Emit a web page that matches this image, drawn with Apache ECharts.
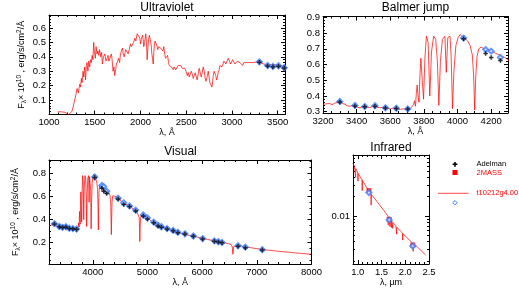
<!DOCTYPE html>
<html><head><meta charset="utf-8">
<script src="https://cdn.jsdelivr.net/npm/echarts@6/dist/echarts.min.js"></script>
<style>html,body{margin:0;padding:0;background:#fff}#c{width:519px;height:296px}</style>
</head><body><div id="c"></div>
<script>
// ---------------- DATA ----------------
const uvWave = [1100,1120,1140,1160,1175,1195,1215,1235,1250,1263,1280,1295,1307,1320,1336,1345,1354,1362,1372,1380,1390,1400,1408,1416,1425,1435,1445,1453,1462,1472,1480,1489,1495,1507,1515,1525,1535,1544,1553,1565,1575,1584,1595,1610,1622,1635,1645,1655,1668,1682,1690,1700,1710,1719,1728,1737,1750,1760,1772,1781,1792,1803,1812,1822,1832,1839,1850,1865,1877,1890,1900,1912,1925,1938,1950,1964,1975,1985,1993,2000,2010,2022,2030,2036,2045,2058,2066,2073,2080,2088,2098,2110,2118,2124,2132,2139,2146,2153,2160,2168,2178,2190,2200,2212,2222,2234,2245,2255,2265,2274,2285,2296,2305,2314,2325,2339,2348,2358,2367,2376,2385,2394,2403,2412,2422,2431,2440,2449,2458,2467,2476,2485,2498,2511,2522,2533,2544,2555,2566,2577,2588,2599,2610,2620,2631,2642,2653,2664,2675,2686,2697,2708,2716,2723,2732,2741,2750,2759,2770,2781,2789,2796,2805,2814,2823,2832,2841,2850,2860,2869,2880,2891,2902,2912,2922,2934,2946,2960,2972,2985,2995,3007,3020,3033,3045,3058,3072,3088,3100,3117,3130,3142,3155,3168,3182,3197,3210,3226,3240,3252,3270,3288,3300,3320,3350,3380,3400,3430,3450,3480,3500,3520,3550,3570,3580];
const uvFlux = [0.02,0.022,0.018,0.02,0.015,0.008,0.0,0.002,0.02,0.05,0.1,0.14,0.18,0.15,0.21,0.19,0.25,0.22,0.3,0.26,0.33,0.24,0.34,0.36,0.3,0.37,0.33,0.38,0.36,0.41,0.38,0.5,0.44,0.39,0.47,0.42,0.44,0.41,0.45,0.4,0.43,0.35,0.4,0.42,0.37,0.39,0.41,0.37,0.36,0.42,0.38,0.3,0.33,0.27,0.31,0.35,0.37,0.39,0.36,0.42,0.44,0.46,0.42,0.4,0.43,0.45,0.44,0.42,0.45,0.49,0.47,0.46,0.5,0.53,0.51,0.56,0.55,0.57,0.53,0.49,0.52,0.55,0.52,0.47,0.5,0.56,0.5,0.38,0.45,0.52,0.55,0.54,0.48,0.42,0.39,0.35,0.43,0.49,0.51,0.52,0.48,0.45,0.47,0.48,0.46,0.45,0.44,0.47,0.42,0.39,0.4,0.41,0.37,0.34,0.35,0.33,0.32,0.31,0.33,0.33,0.31,0.3,0.32,0.34,0.33,0.35,0.34,0.33,0.32,0.31,0.33,0.32,0.3,0.27,0.29,0.26,0.28,0.3,0.28,0.25,0.27,0.29,0.26,0.24,0.28,0.32,0.29,0.26,0.29,0.33,0.3,0.25,0.23,0.24,0.27,0.3,0.26,0.22,0.21,0.19,0.23,0.27,0.3,0.31,0.27,0.24,0.26,0.29,0.31,0.34,0.34,0.33,0.35,0.37,0.36,0.35,0.37,0.39,0.38,0.35,0.36,0.38,0.37,0.35,0.36,0.37,0.36,0.36,0.35,0.34,0.36,0.37,0.36,0.35,0.36,0.37,0.36,0.35,0.36,0.36,0.365,0.37,0.36,0.355,0.35,0.345,0.35,0.345,0.34,0.345,0.345,0.34,0.335,0.325,0.33];

const modelWave = [3200,3215,3225,3240,3255,3270,3285,3300,3315,3330,3345,3360,3375,3390,3405,3420,3435,3450,3465,3480,3495,3510,3525,3540,3555,3570,3585,3600,3615,3630,3645,3660,3675,3690,3705,3720,3730,3738,3744,3750,3755,3760,3765,3771,3776,3782,3790,3798,3806,3815,3825,3835,3845,3858,3870,3880,3889,3898,3910,3925,3933,3942,3955,3962,3970,3978,3990,4003,4015,4030,4045,4060,4075,4088,4096,4102,4108,4116,4126,4140,4160,4180,4200,4220,4240,4260,4280,4300,4315,4328,4340,4352,4365,4385,4400,4430,4460,4500,4550,4600,4650,4700,4750,4800,4830,4848,4856,4861,4866,4875,4895,4920,4950,5000,5050,5100,5150,5200,5250,5300,5350,5400,5450,5500,5550,5600,5650,5700,5800,5900,6000,6100,6200,6300,6400,6480,6530,6550,6563,6575,6600,6700,6800,6900,7000,7100,7200,7300,7400,7500,7600,7700,7800,7900,8000];
const modelFlux = [0.345,0.35,0.34,0.352,0.345,0.355,0.358,0.362,0.352,0.348,0.338,0.335,0.34,0.337,0.328,0.325,0.333,0.332,0.328,0.326,0.334,0.335,0.328,0.326,0.327,0.322,0.321,0.318,0.322,0.319,0.317,0.315,0.318,0.316,0.317,0.32,0.33,0.345,0.37,0.335,0.42,0.47,0.4,0.36,0.52,0.64,0.5,0.38,0.64,0.78,0.74,0.4,0.68,0.78,0.76,0.62,0.34,0.62,0.76,0.78,0.55,0.77,0.78,0.65,0.32,0.55,0.72,0.77,0.79,0.775,0.765,0.75,0.72,0.66,0.52,0.31,0.52,0.65,0.7,0.71,0.7,0.695,0.685,0.675,0.665,0.655,0.645,0.63,0.61,0.55,0.27,0.55,0.605,0.612,0.61,0.6,0.585,0.565,0.55,0.535,0.52,0.505,0.49,0.475,0.46,0.42,0.32,0.21,0.32,0.42,0.44,0.44,0.43,0.415,0.395,0.38,0.365,0.352,0.34,0.332,0.322,0.313,0.305,0.297,0.29,0.283,0.277,0.27,0.26,0.25,0.24,0.228,0.218,0.208,0.2,0.192,0.185,0.165,0.1,0.165,0.178,0.172,0.164,0.156,0.149,0.142,0.136,0.131,0.126,0.121,0.117,0.112,0.108,0.104,0.1];

const irWave = [0.90,0.93,0.952,0.955,0.958,0.98,1.002,1.005,1.008,1.05,1.091,1.094,1.097,1.15,1.2,1.25,1.279,1.282,1.285,1.35,1.45,1.55,1.6,1.64,1.642,1.645,1.68,1.681,1.684,1.71,1.712,1.715,1.736,1.738,1.741,1.8,1.818,1.82,1.823,1.9,1.944,1.946,1.95,2.05,2.1,2.164,2.166,2.169,2.25,2.33,2.43];
const irFlux = [0.066,0.06,0.056,0.04,0.055,0.051,0.047,0.035,0.046,0.041,0.037,0.025,0.036,0.031,0.027,0.024,0.022,0.0148,0.0218,0.019,0.0152,0.0122,0.0108,0.0098,0.0072,0.0096,0.009,0.0068,0.0089,0.0085,0.0066,0.0084,0.008,0.0064,0.0079,0.0071,0.0068,0.0052,0.0067,0.0058,0.0054,0.0042,0.0053,0.0045,0.0041,0.0037,0.0028,0.0037,0.0033,0.0029,0.00245];

const adelmanWave = [3300,3390,3448,3509,3571,3636,3704,4036,4167,4200,4255,4464,4566,4673,4785,4924,5000,5115,5194,5256,5360,5470,5556,5685,5840,6009,6224,6297,6364,6657,6790,7100];
const adelmanFlux = [0.362,0.337,0.331,0.335,0.323,0.320,0.317,0.763,0.670,0.645,0.625,0.577,0.530,0.512,0.474,0.430,0.405,0.373,0.344,0.333,0.318,0.304,0.287,0.275,0.255,0.232,0.212,0.206,0.200,0.170,0.157,0.137];
const synthFlux = [0.365,0.340,0.333,0.338,0.325,0.322,0.318,0.768,0.695,0.685,0.645,0.585,0.545,0.518,0.482,0.440,0.415,0.378,0.352,0.338,0.322,0.306,0.290,0.277,0.258,0.236,0.216,0.208,0.202,0.174,0.162,0.140];

const tmassWave = [1.235,1.662,2.159];
const tmassFlux = [0.0249,0.00887,0.00352];
const tmassSynth = [0.0232,0.0087,0.0034];

const uvXTicks = [1000,1500,2000,2500,3000,3500];
const uvYTicks = [0.1,0.2,0.3,0.4,0.5,0.6];
const bjXTicks = [3200,3400,3600,3800,4000,4200];
const bjYTicks = [0.3,0.4,0.5,0.6,0.7,0.8,0.9];
const viXTicks = [4000,5000,6000,7000,8000];
const viYTicks = [0.2,0.4,0.6,0.8];
const irXTicks = [1.0,1.5,2.0,2.5];
const irYMinor = [0.002,0.003,0.004,0.005,0.006,0.007,0.008,0.009,0.02,0.03,0.04,0.05,0.06,0.07,0.08];

const titles = ['Ultraviolet','Balmer jump','Visual','Infrared'];
const legendNames = ['Adelman','2MASS','t10212g4.00'];

// ---------------- LAYOUT ----------------
const FF = '"Liberation Sans", Arial, Helvetica, sans-serif';
const LBL = 9.5;
const G = [
  {left:49, top:15, width:236, height:99.5},
  {left:323, top:16.5, width:185, height:96.5},
  {left:49, top:160, width:262.5, height:104},
  {left:353, top:155, width:76, height:109}
];
function steps(a, b, s){ const r=[]; for(let v=a; v<=b+1e-9; v+=s) r.push(+v.toFixed(6)); return r; }
const pair = (xs, ys) => xs.map((x,i)=>[x, ys[i]]);
const fmtX = d => (v => v.toFixed(d));

const xAxes=[], yAxes=[], series=[];
const black = {color:'#000', width:1};
const yName = '{a|F}{b|λ}{a|× 10}{c|10}{a| , erg/s/cm}{c|2}{a|/Å}';
const nameRich = {
  a:{fontSize:9, fontFamily:FF, color:'#000', verticalAlign:'middle', lineHeight:12},
  b:{fontSize:6.5, fontFamily:FF, color:'#000', verticalAlign:'bottom', lineHeight:12},
  c:{fontSize:6.5, fontFamily:FF, color:'#000', verticalAlign:'top', lineHeight:12}
};

function addPanel(gi, p){
  const bx = xAxes.length, by = yAxes.length;
  const common = {gridIndex:gi, splitLine:{show:false}};
  xAxes.push(Object.assign({}, common, {type:'value', position:'bottom', min:p.xr[0], max:p.xr[1],
    axisLine:{show:true, onZero:false, lineStyle:black},
    axisTick:{show:true, inside:true, length:4, customValues:p.xt, lineStyle:black},
    axisLabel:{show:true, customValues:p.xt, formatter:fmtX(p.xd), fontSize:LBL, color:'#000', fontFamily:FF, margin:3},
    name:p.xName, nameLocation:'middle', nameGap:14,
    nameTextStyle:{fontSize:9, color:'#000', fontFamily:FF}}));
  xAxes.push(Object.assign({}, common, {type:'value', position:'top', min:p.xr[0], max:p.xr[1],
    axisLine:{show:true, onZero:false, lineStyle:black},
    axisTick:{show:true, inside:true, length:4, customValues:p.xt, lineStyle:black},
    axisLabel:{show:false}}));
  ['bottom','top'].forEach(pos => xAxes.push(Object.assign({}, common, {type:'value', position:pos, min:p.xr[0], max:p.xr[1],
    axisLine:{show:false, onZero:false},
    axisTick:{show:true, inside:true, length:2, customValues:p.xm, lineStyle:black},
    axisLabel:{show:false}})));
  const yType = p.log ? 'log' : 'value';
  const yMain = Object.assign({}, common, {type:yType, position:'left', min:p.yr[0], max:p.yr[1],
    axisLine:{show:true, onZero:false, lineStyle:black},
    axisTick:{show:true, inside:true, length:4, lineStyle:black},
    axisLabel:{show:true, fontSize:LBL, color:'#000', fontFamily:FF, margin:3}});
  if (!p.log){ yMain.axisTick.customValues = p.yt; yMain.axisLabel.customValues = p.yt; yMain.axisLabel.formatter = fmtX(1); }
  else { yMain.logBase = 10; yMain.axisLabel.showMinLabel = false; yMain.axisLabel.showMaxLabel = false; }
  if (p.yName){ Object.assign(yMain, {name:p.yName, nameLocation:'middle', nameGap:21, nameRotate:90, nameTextStyle:{rich:nameRich}}); }
  yAxes.push(yMain);
  const yMirror = Object.assign({}, common, {type:yType, position:'right', min:p.yr[0], max:p.yr[1],
    axisLine:{show:true, onZero:false, lineStyle:black},
    axisTick:{show:true, inside:true, length:4, lineStyle:black},
    axisLabel:{show:false}});
  if (!p.log) yMirror.axisTick.customValues = p.yt; else yMirror.logBase = 10;
  yAxes.push(yMirror);
  ['left','right'].forEach(pos => {
    const m = Object.assign({}, common, {type:yType, position:pos, min:p.yr[0], max:p.yr[1],
      axisLine:{show:false, onZero:false},
      axisTick:{show:true, inside:true, length:2, customValues:p.ym, lineStyle:black},
      axisLabel:{show:false}});
    if (p.log) m.logBase = 10;
    yAxes.push(m);
  });
  return {x:bx, y:by};
}

const P1 = addPanel(0, {xr:[1000,3580], yr:[0,0.69], xt:uvXTicks, xd:0, xm:steps(1000,3500,100), yt:uvYTicks, ym:steps(0,0.68,0.02), xName:'λ, Å', yName:yName});
const P2 = addPanel(1, {xr:[3200,4300], yr:[0.292,0.905], xt:bjXTicks, xd:0, xm:steps(3200,4300,50), yt:bjYTicks, ym:steps(0.3,0.9,0.02), xName:'λ, Å'});
const P3 = addPanel(2, {xr:[3200,8000], yr:[0.016,0.915], xt:viXTicks, xd:0, xm:steps(3200,8000,200), yt:viYTicks, ym:steps(0.05,0.9,0.05), xName:'λ, Å', yName:yName});
const P4 = addPanel(3, {xr:[0.9,2.5], yr:[0.00178,0.0897], xt:irXTicks, xd:1, xm:steps(0.9,2.5,0.1), ym:irYMinor, xName:'λ, µm', log:true});

const RED = '#ff0000';
const plusPath = 'path://M-1,-3L1,-3L1,-1L3,-1L3,1L1,1L1,3L-1,3L-1,1L-3,1L-3,-1L-1,-1Z';
function lineSeries(ax, xs, ys){
  return {type:'line', xAxisIndex:ax.x, yAxisIndex:ax.y, data:pair(xs, ys), showSymbol:false, symbol:'none',
    lineStyle:{color:RED, width:0.8, opacity:0.9}, clip:true, silent:true, z:2};
}
function synthSeries(ax, xs, ys){
  return {type:'scatter', xAxisIndex:ax.x, yAxisIndex:ax.y, data:pair(xs, ys), symbol:'emptyDiamond', symbolSize:5,
    itemStyle:{color:'#3d7dff', borderColor:'#3d7dff', borderWidth:1}, clip:true, silent:true, z:3};
}
function adelSeries(ax){
  return {type:'scatter', xAxisIndex:ax.x, yAxisIndex:ax.y, data:pair(adelmanWave, adelmanFlux), symbol:plusPath, symbolSize:4.5,
    itemStyle:{color:'#000'}, clip:true, silent:true, z:4};
}
series.push(lineSeries(P1, uvWave, uvFlux), synthSeries(P1, adelmanWave, synthFlux), adelSeries(P1));
series.push(lineSeries(P2, modelWave, modelFlux), synthSeries(P2, adelmanWave, synthFlux), adelSeries(P2));
series.push(lineSeries(P3, modelWave, modelFlux), synthSeries(P3, adelmanWave, synthFlux), adelSeries(P3));
series.push(lineSeries(P4, irWave, irFlux),
  {type:'scatter', xAxisIndex:P4.x, yAxisIndex:P4.y, data:pair(tmassWave, tmassFlux), symbol:'rect', symbolSize:5, itemStyle:{color:'#ff0000'}, clip:true, silent:true, z:3},
  synthSeries(P4, tmassWave, tmassSynth));

function txt(x, y, s, size, color, align){
  return {type:'text', x:x, y:y, silent:true, style:{text:s, fill:color||'#000', font:size+'px '+FF,
    align:align||'center', verticalAlign:'middle', textAlign:align||'center', textVerticalAlign:'middle'}};
}
const plusPts = [[-1,-3],[1,-3],[1,-1],[3,-1],[3,1],[1,1],[1,3],[-1,3],[-1,1],[-3,1],[-3,-1],[-1,-1]].map(p=>[455+p[0]*0.8, 164.3+p[1]*0.8]);
const graphic = [
  txt(167, 7.5, titles[0], 12), txt(415.5, 7.5, titles[1], 12), txt(180.5, 151.5, titles[2], 12), txt(391, 147.5, titles[3], 12),
  {type:'polygon', silent:true, shape:{points:plusPts}, style:{fill:'#000'}},
  txt(476.5, 164.3, legendNames[0], 7.5, '#000', 'left'),
  {type:'rect', silent:true, shape:{x:452.5, y:170, width:5, height:5}, style:{fill:'#ff0000'}},
  txt(476.5, 172.5, legendNames[1], 7.5, '#ff0000', 'left'),
  {type:'line', silent:true, shape:{x1:438, y1:193.3, x2:468.5, y2:193.3}, style:{stroke:RED, lineWidth:0.8, opacity:0.9}},
  txt(476.5, 193.3, legendNames[2], 7.5, '#ff0000', 'left'),
  {type:'polygon', silent:true, shape:{points:[[455,200.5],[457.2,202.7],[455,204.9],[452.8,202.7]]}, style:{fill:'none', stroke:'#3d7dff', lineWidth:1}}
];

const chart = echarts.init(document.getElementById('c'), null, {renderer:'canvas'});
try {
  chart.setOption({animation:false, backgroundColor:'#fff', grid:G, xAxis:xAxes, yAxis:yAxes, series:series, graphic:graphic});
} catch(e) {
  const d = document.createElement('div'); d.style.cssText='position:absolute;left:0;top:100px;font:10px monospace;color:blue';
  d.textContent = e.message + ' ' + (e.stack||'').slice(0,300); document.body.appendChild(d);
}
</script></body></html>
